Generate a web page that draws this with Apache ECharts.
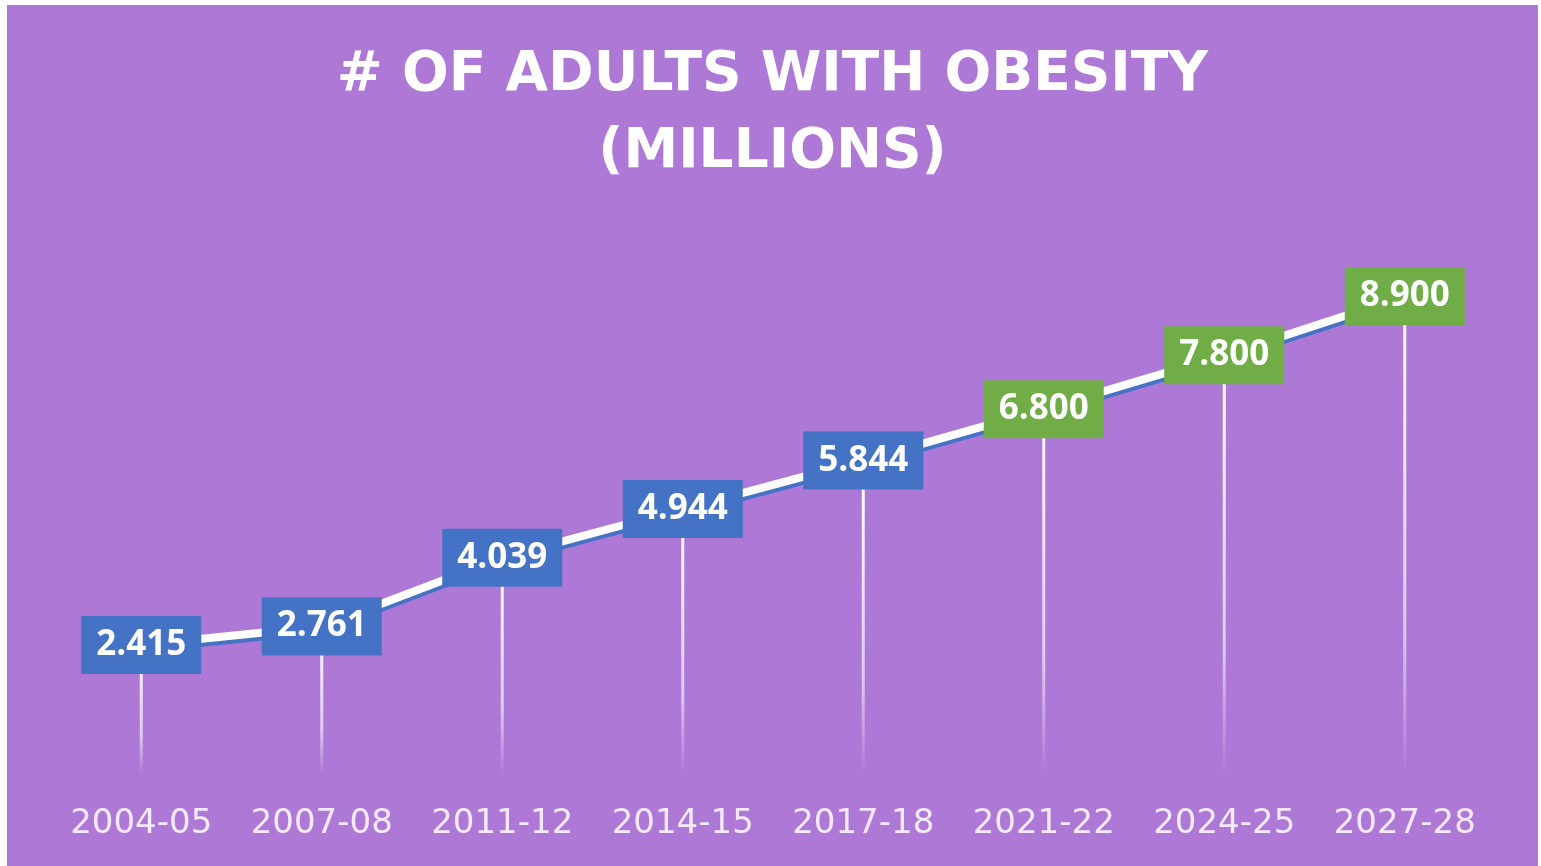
<!DOCTYPE html>
<html>
<head>
<meta charset="utf-8">
<script src="https://cdn.jsdelivr.net/npm/echarts@6/dist/echarts.min.js"></script>
<style>
  html, body { margin: 0; padding: 0; background: #ffffff; width: 1541px; height: 866px; overflow: hidden; }
  #chart { position: absolute; left: 7px; top: 5px; width: 1531px; height: 861px; }
</style>
</head>
<body>
<div id="chart"></div>
<script>
// ---- data ----
const titleText = '# OF ADULTS WITH OBESITY\n(MILLIONS)';
const categories = ['2004-05', '2007-08', '2011-12', '2014-15', '2017-18', '2021-22', '2024-25', '2027-28'];
const adultsMillions = [2.415, 2.761, 4.039, 4.944, 5.844, 6.800, 7.800, 8.900];
const isProjection = [false, false, false, false, false, true, true, true];

// ---- styles ----
const BG = '#AD78D6';
const BLUE = '#4472C4';
const GREEN = '#70AD47';

const chart = echarts.init(document.getElementById('chart'));

const lineData = adultsMillions.map((v, i) => ({
  value: v,
  label: { backgroundColor: isProjection[i] ? GREEN : BLUE }
}));

chart.setOption({
  backgroundColor: BG,
  animation: false,
  title: {
    text: titleText,
    left: 'center',
    top: 32,
    padding: 0,
    textStyle: {
      color: '#ffffff',
      fontFamily: 'DejaVu Sans',
      fontWeight: 'bold',
      fontSize: 55,
      lineHeight: 77
    }
  },
  grid: { left: 44, right: 43, top: 232, bottom: 91, containLabel: false },
  xAxis: {
    type: 'category',
    data: categories,
    boundaryGap: true,
    axisLine: { show: false },
    axisTick: { show: false },
    splitLine: { show: false },
    axisLabel: {
      interval: 0,
      color: '#F4E8FB',
      fontFamily: 'DejaVu Sans',
      fontSize: 34,
      margin: 32
    }
  },
  yAxis: {
    type: 'value',
    min: 0,
    max: 10,
    show: false,
    splitLine: { show: false }
  },
  series: [
    {
      type: 'bar',
      data: adultsMillions,
      barWidth: 3,
      z: 1,
      itemStyle: {
        color: new echarts.graphic.LinearGradient(0, 0, 0, 1, [
          { offset: 0, color: 'rgba(255,255,255,1)' },
          { offset: 0.7, color: 'rgba(255,255,255,0.6)' },
          { offset: 1, color: 'rgba(255,255,255,0)' }
        ])
      }
    },
    {
      type: 'line',
      data: lineData,
      z: 3,
      symbol: 'circle',
      symbolSize: 1,
      itemStyle: { color: 'rgba(255,255,255,0)' },
      lineStyle: {
        color: '#ffffff',
        width: 8,
        shadowColor: BLUE,
        shadowBlur: 0,
        shadowOffsetY: 4
      },
      label: {
        show: true,
        position: 'inside',
        formatter: p => Number(p.value).toFixed(3),
        color: '#ffffff',
        fontFamily: 'Open Sans',
        fontWeight: 'bold',
        fontSize: 35,
        lineHeight: 36,
        padding: [12, 15, 10, 15],
        backgroundColor: BLUE
      }
    }
  ]
});
</script>
</body>
</html>
